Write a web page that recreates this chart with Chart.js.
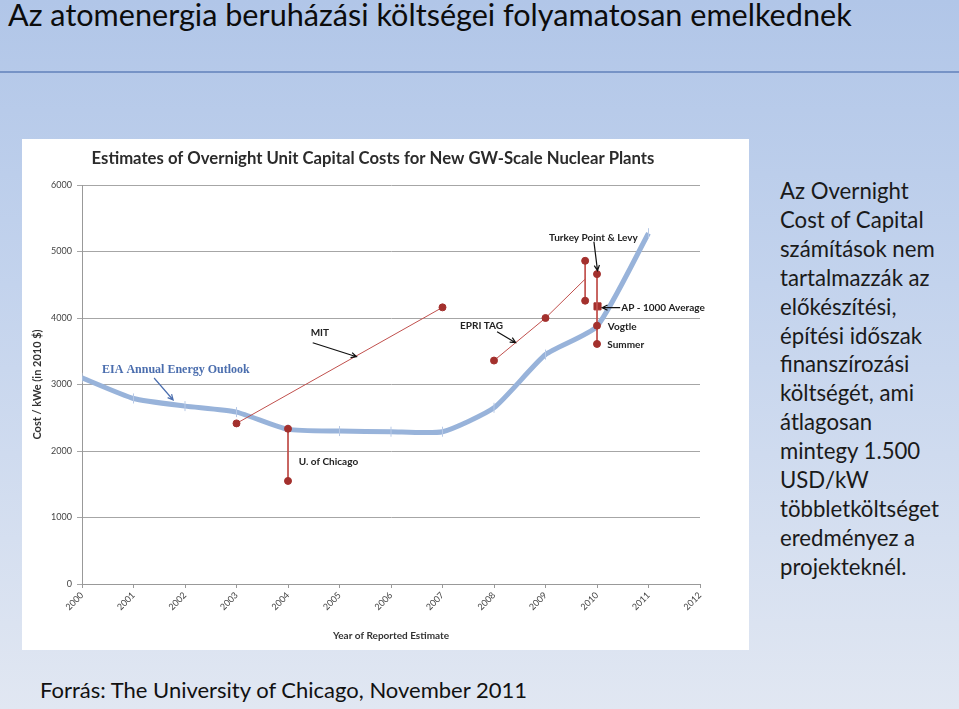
<!DOCTYPE html>
<html>
<head>
<meta charset="utf-8">
<script src="https://cdn.jsdelivr.net/npm/chart.js@4.4.0/dist/chart.umd.min.js"></script>
<style>
  html, body { margin: 0; padding: 0; }
  body {
    width: 959px; height: 709px; overflow: hidden; position: relative;
    background: linear-gradient(to bottom, #b1c6e8 0%, #c3d3ed 40%, #e1e7f2 100%);
    font-family: Lato, "Open Sans", sans-serif; color: #111;
  }
  .slide-title { position: absolute; left: 8px; top: -4px; font-size: 30.6px; white-space: nowrap; color: #0c0c0c; }
  .title-line { position: absolute; left: 0; top: 71px; width: 959px; height: 2px; background: #7693c6; }
  .chart-box { position: absolute; left: 22px; top: 139px; width: 727px; height: 511px; background: #fff; }
  .side-text { position: absolute; left: 780px; top: 177px; font-size: 22.2px; line-height: 28.9px; color: #1a1a1a; }
  .source { position: absolute; left: 40px; top: 676px; font-size: 22px; white-space: nowrap; color: #111; }
</style>
</head>
<body>
<div class="slide-title">Az atomenergia beruházási költségei folyamatosan emelkednek</div>
<div class="title-line"></div>
<div class="chart-box"><canvas id="myChart" width="727" height="511"></canvas></div>
<div class="side-text">Az Overnight<br>Cost of Capital<br>számítások nem<br>tartalmazzák az<br>előkészítési,<br>építési időszak<br>finanszírozási<br>költségét, ami<br>átlagosan<br>mintegy 1.500<br>USD/kW<br>többletköltséget<br>eredményez a<br>projekteknél.</div>
<div class="source">Forrás: The University of Chicago, November 2011</div>

<script>
// EIA Annual Energy Outlook
const years = [2000, 2001, 2002, 2003, 2004, 2005, 2006, 2007, 2008, 2009, 2010, 2011]
const eiaCost = [3100, 2790, 2675, 2585, 2325, 2300, 2290, 2290, 2650, 3450, 3875, 5275]

// other estimates (red)
const mitYears = [2003, 2007]
const mitCost = [2415, 4160]
const chicagoYears = [2004, 2004]
const chicagoCost = [2335, 1550]
const epriYears = [2008, 2009, 2009.77]
const epriCost = [3360, 4000, 4585]
const turkeyYears = [2009.77, 2009.77]
const turkeyCost = [4860, 4260]
const plants2010Years = [2010, 2010, 2010]
const plants2010Cost = [4660, 3885, 3610]   // Turkey Point & Levy, Vogtle, Summer
const apYears = [2010.01]
const apCost = [4175]

const xTickYears = [2000, 2001, 2002, 2003, 2004, 2005, 2006, 2007, 2008, 2009, 2010, 2011, 2012]
const yTickValues = [0, 1000, 2000, 3000, 4000, 5000, 6000]

function pts(xs, ys) {
    return xs.map(function (x, i) { return { x: x, y: ys[i] } })
}

const red = '#c0504d'
const redDot = '#a3302d'

function redSeries(label, xs, ys, extra) {
    return Object.assign({
        label: label,
        data: pts(xs, ys),
        borderColor: red,
        borderWidth: 1,
        backgroundColor: redDot,
        pointBackgroundColor: redDot,
        pointBorderColor: redDot,
        pointRadius: 3.5,
        order: 0
    }, extra || {})
}

// labels and arrows, anchored in data values
const notes = [
    { text: 'EIA Annual Energy Outlook', x: 2000.39, y: 3218, color: '#4b6eae', font: 'bold 12px "Liberation Serif", serif' },
    { text: 'MIT', x: 2004.44, y: 3774 },
    { text: 'EPRI TAG', x: 2007.34, y: 3884 },
    { text: 'Turkey Point & Levy', x: 2009.07, y: 5208 },
    { text: 'AP - 1000 Average', x: 2010.47, y: 4155 },
    { text: 'Vogtle', x: 2010.21, y: 3870 },
    { text: 'Summer', x: 2010.2, y: 3594 },
    { text: 'U. of Chicago', x: 2004.21, y: 1840 }
]
const arrows = [
    { x1: 2001.40, y1: 3098, x2: 2001.77, y2: 2767, color: '#4b6eae' },
    { x1: 2004.48, y1: 3628, x2: 2005.33, y2: 3418 },
    { x1: 2008.06, y1: 3794, x2: 2008.42, y2: 3629 },
    { x1: 2009.94, y1: 5148, x2: 2010.01, y2: 4712 },
    { x1: 2010.45, y1: 4155, x2: 2010.10, y2: 4155 }
]

const notesPlugin = {
    id: 'notes',
    afterDatasetsDraw: function (chart) {
        const c = chart.ctx
        const xs = chart.scales.x
        const ys = chart.scales.y
        c.save()
        c.textBaseline = 'middle'
        c.textAlign = 'left'
        notes.forEach(function (n) {
            c.font = n.font || 'bold 10px Lato, sans-serif'
            c.fillStyle = n.color || '#222'
            c.fillText(n.text, xs.getPixelForValue(n.x), ys.getPixelForValue(n.y))
        })
        arrows.forEach(function (a) {
            const x1 = xs.getPixelForValue(a.x1), y1 = ys.getPixelForValue(a.y1)
            const x2 = xs.getPixelForValue(a.x2), y2 = ys.getPixelForValue(a.y2)
            const ang = Math.atan2(y2 - y1, x2 - x1)
            c.strokeStyle = a.color || '#111'
            c.lineWidth = 1.2
            c.beginPath()
            c.moveTo(x1, y1)
            c.lineTo(x2, y2)
            c.moveTo(x2 - 6 * Math.cos(ang - 0.45), y2 - 6 * Math.sin(ang - 0.45))
            c.lineTo(x2, y2)
            c.lineTo(x2 - 6 * Math.cos(ang + 0.45), y2 - 6 * Math.sin(ang + 0.45))
            c.stroke()
        })
        c.restore()
    },
    afterDraw: function (chart) {
        const c = chart.ctx
        c.save()
        c.font = 'bold 16.7px Lato, sans-serif'
        c.fillStyle = '#2b2b2b'
        c.textAlign = 'center'
        c.textBaseline = 'middle'
        c.fillText('Estimates of Overnight Unit Capital Costs for New GW-Scale Nuclear Plants', 351, 20)
        c.restore()
    }
}

const ctx = document.getElementById('myChart')

new Chart(ctx, {
    type: 'line',
    data: {
        datasets: [
            {
                label: 'EIA Annual Energy Outlook',
                data: pts(years, eiaCost),
                borderColor: '#98b3da',
                borderWidth: 5,
                tension: 0.18,
                pointStyle: 'line',
                rotation: 90,
                pointRadius: 5,
                pointBorderWidth: 1,
                pointBorderColor: '#b7c9e6',
                order: 10
            },
            redSeries('MIT', mitYears, mitCost),
            redSeries('U. of Chicago', chicagoYears, chicagoCost),
            redSeries('EPRI TAG', epriYears, epriCost, { pointRadius: [3.5, 3.5, 0] }),
            redSeries('Turkey Point & Levy', turkeyYears, turkeyCost),
            redSeries('2010 plants', plants2010Years, plants2010Cost),
            redSeries('AP - 1000 Average', apYears, apCost, { showLine: false, pointStyle: 'rect', pointRadius: 5 })
        ]
    },
    options: {
        responsive: false,
        animation: false,
        layout: { padding: { top: 46, right: 49, left: 0, bottom: 0 } },
        scales: {
            x: {
                type: 'linear',
                min: 2000,
                max: 2012,
                afterFit: function (scale) { scale.height = 66 },
                afterBuildTicks: function (scale) {
                    scale.ticks = xTickYears.map(function (v) { return { value: v } })
                },
                ticks: {
                    minRotation: 45,
                    maxRotation: 45,
                    padding: 2,
                    color: '#444',
                    font: { size: 9, family: 'Lato' },
                    callback: function (v) { return String(v) }
                },
                grid: { drawOnChartArea: false, drawTicks: true, tickLength: 4, color: '#999' },
                border: { color: '#999' },
                title: {
                    display: true,
                    text: 'Year of Reported Estimate',
                    color: '#333',
                    font: { size: 10, weight: 'bold', family: 'Lato' },
                    padding: { top: 0, bottom: 8 }
                }
            },
            y: {
                min: 0,
                max: 6000,
                afterFit: function (scale) { scale.width = 60 },
                afterBuildTicks: function (scale) {
                    scale.ticks = yTickValues.map(function (v) { return { value: v } })
                },
                ticks: {
                    padding: 5,
                    color: '#444',
                    font: { size: 9, family: 'Lato' },
                    callback: function (v) { return String(v) }
                },
                grid: { color: '#a6a6a6', tickLength: 5 },
                border: { color: '#999' },
                title: {
                    display: true,
                    text: 'Cost / kWe (in 2010 $)',
                    color: '#333',
                    font: { size: 11, weight: 'bold', family: 'Lato' },
                    padding: { top: 9, bottom: 0 }
                }
            }
        },
        plugins: {
            legend: { display: false },
            tooltip: { enabled: false }
        }
    },
    plugins: [notesPlugin]
});
</script>
</body>
</html>
